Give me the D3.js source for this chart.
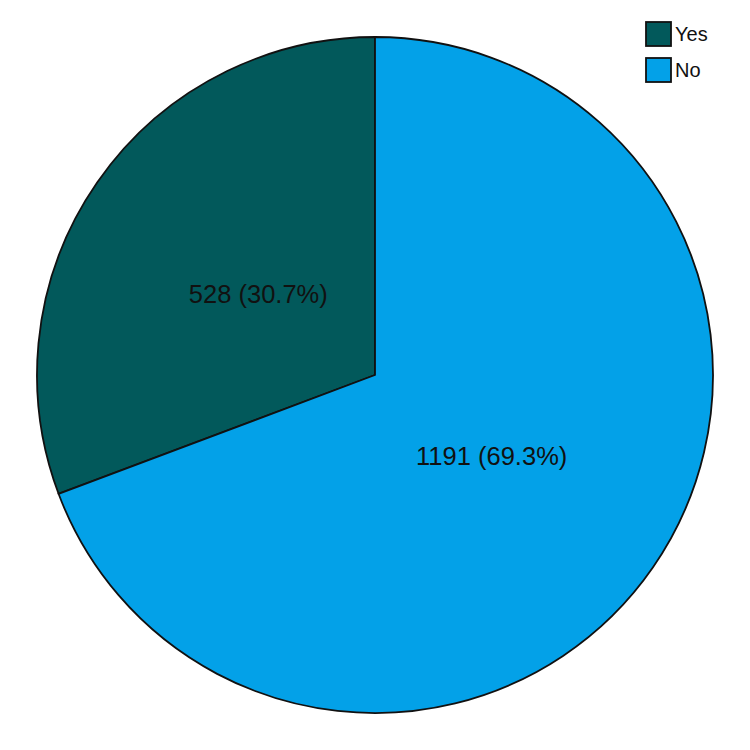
<!DOCTYPE html>
<html>
<head>
<meta charset="utf-8">
<script src="https://cdn.jsdelivr.net/npm/d3@7"></script>
<style>
  body { margin: 0; background: #fff; }
  text { font-family: "Liberation Sans", Arial, sans-serif; }
</style>
</head>
<body>
<div id="chart"></div>
<script>
// data
var categories = ["Yes", "No"];
var counts = [528, 1191];
var colors = ["#02595b", "#03a1e8"];

var width = 750, height = 750;
var cx = 375, cy = 375, radius = 338;

var total = d3.sum(counts);
var data = categories.map(function(c, i) {
  return { name: c, value: counts[i], color: colors[i] };
});

var svg = d3.select("#chart").append("svg")
  .attr("width", width)
  .attr("height", height);

var g = svg.append("g")
  .attr("transform", "translate(" + cx + "," + cy + ")");

// Yes runs counterclockwise from 12 o'clock, so go from 2pi down to 0
var pie = d3.pie()
  .value(function(d) { return d.value; })
  .sort(null)
  .startAngle(2 * Math.PI)
  .endAngle(0);

var arc = d3.arc().innerRadius(0).outerRadius(radius);
var labelArc = d3.arc().innerRadius(radius * 0.42).outerRadius(radius * 0.42);

var arcs = pie(data);

g.selectAll("path")
  .data(arcs)
  .enter()
  .append("path")
  .attr("d", arc)
  .attr("fill", function(d) { return d.data.color; })
  .attr("stroke", "#111")
  .attr("stroke-width", 1.8);

g.selectAll("text.lbl")
  .data(arcs)
  .enter()
  .append("text")
  .attr("class", "lbl")
  .attr("transform", function(d) { return "translate(" + labelArc.centroid(d) + ")"; })
  .attr("text-anchor", "middle")
  .attr("dy", "0.35em")
  .style("font-size", "25.5px")
  .style("fill", "#111")
  .text(function(d) {
    return d.data.value + " (" + (d.data.value / total * 100).toFixed(1) + "%)";
  });

// legend
var legend = svg.append("g").attr("transform", "translate(646,22)");
var item = legend.selectAll("g")
  .data(data)
  .enter()
  .append("g")
  .attr("transform", function(d, i) { return "translate(0," + i * 36 + ")"; });

item.append("rect")
  .attr("width", 25)
  .attr("height", 24)
  .attr("fill", function(d) { return d.color; })
  .attr("stroke", "#111")
  .attr("stroke-width", 1.8);

item.append("text")
  .attr("x", 29)
  .attr("y", 19)
  .style("font-size", "20px")
  .style("fill", "#111")
  .text(function(d) { return d.name; });
</script>
</body>
</html>
